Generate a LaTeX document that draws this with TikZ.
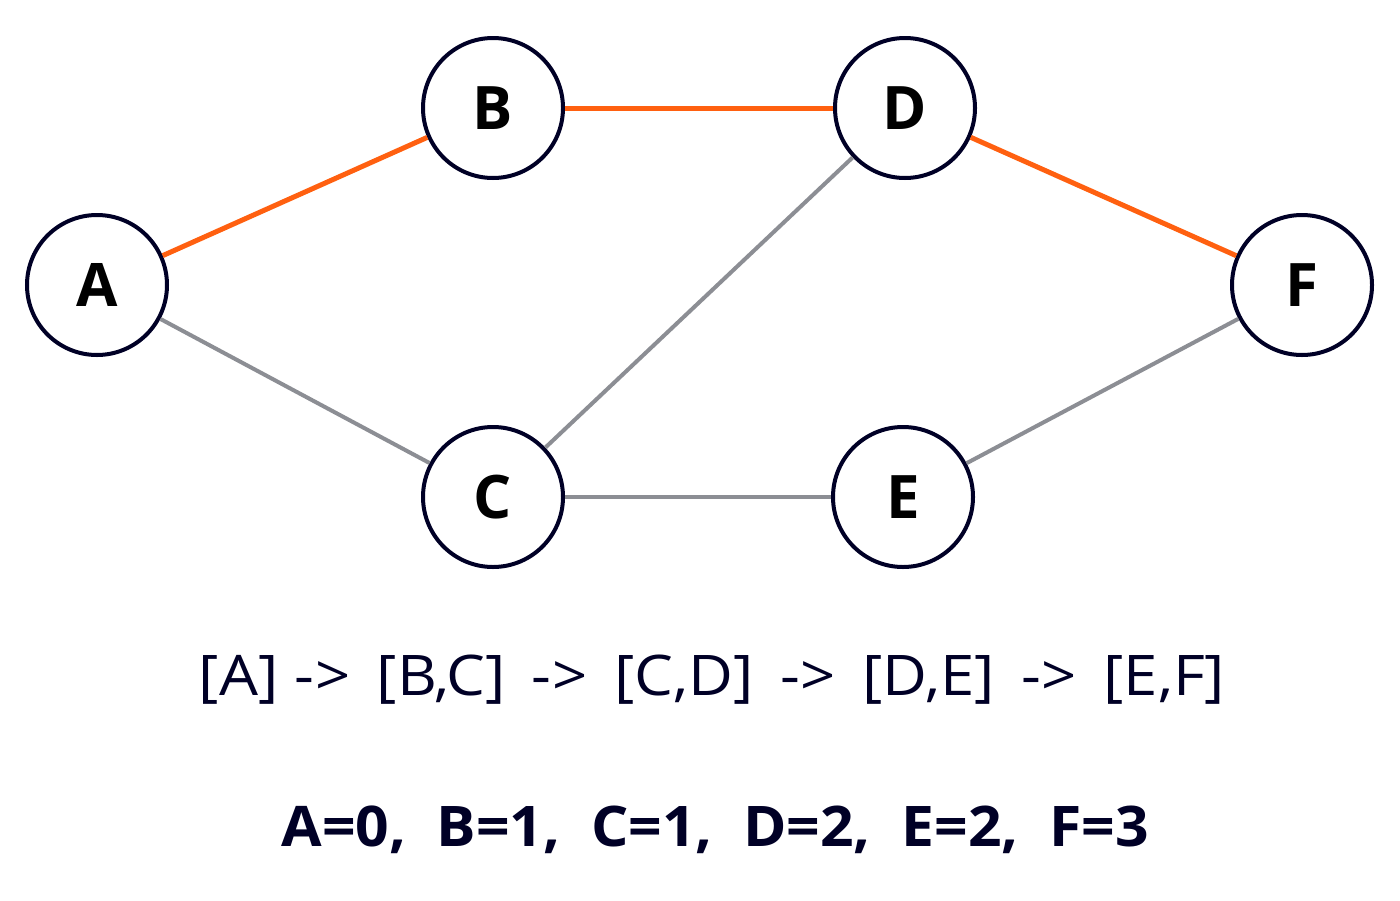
\documentclass[tikz,border=0pt]{standalone}
\usepackage{fontspec}
\setmainfont{Open Sans}
\begin{document}
\begin{tikzpicture}[x=1pt,y=-1pt,
  nd/.style={circle,draw=black!85!blue,line width=4pt,fill=white,minimum size=140pt,inner sep=0pt,font=\fontsize{60}{70}\selectfont\bfseries},
  hot/.style={draw={rgb,255:red,255;green,96;blue,16},line width=5pt},
  cold/.style={draw={rgb,255:red,140;green,142;blue,148},line width=4pt}]
\useasboundingbox (0,0) rectangle (1400,900);
\node[nd] (A) at (97,285) {A};
\node[nd] (B) at (493,108) {B};
\node[nd] (D) at (905,108) {D};
\node[nd] (F) at (1302,285) {F};
\node[nd] (C) at (493,497) {C};
\node[nd] (E) at (903,497) {E};
\draw[hot] (A) -- (B);
\draw[hot] (B) -- (D);
\draw[hot] (D) -- (F);
\draw[cold] (A) -- (C);
\draw[cold] (C) -- (D);
\draw[cold] (C) -- (E);
\draw[cold] (E) -- (F);
\node[text=black!85!blue,font=\fontsize{56}{60}\selectfont,xscale=1.1] (t1) at (712,680) {[A] -\kern1pt>\ \,[B,C]\ \,-\kern1pt>\ \,[C,D]\ \,-\kern1pt>\ \,[D,E]\ \,-\kern1pt>\ \,[E,F]};
\node[text=black!85!blue,font=\fontsize{56}{60}\selectfont\bfseries,xscale=1.05] (t2) at (715,830) {A=0,\ \ B=1,\ \ C=1,\ \ D=2,\ \ E=2,\ \ F=3};
\end{tikzpicture}
\end{document}
